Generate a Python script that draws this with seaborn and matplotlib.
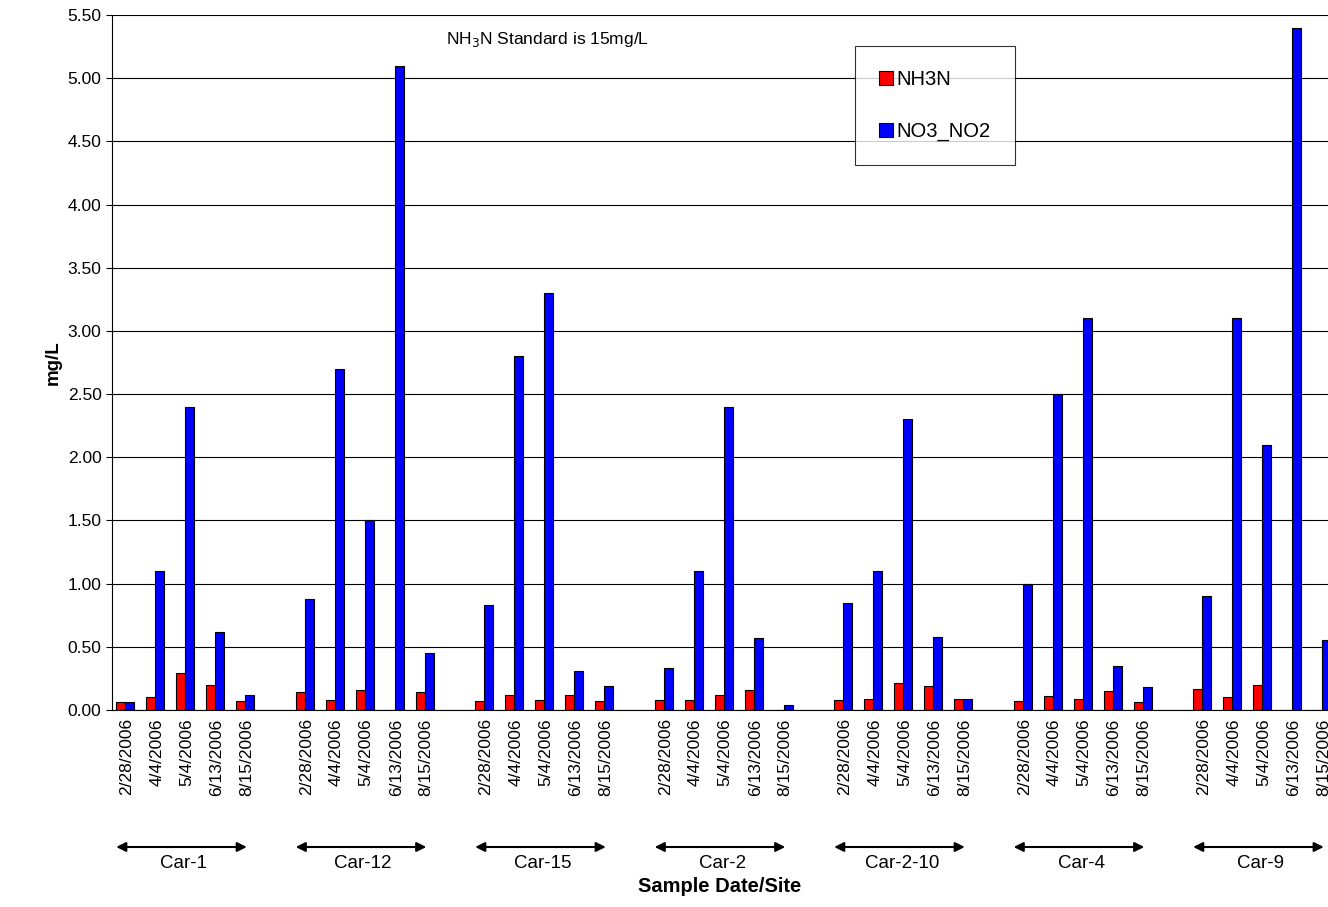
import matplotlib
matplotlib.use("Agg")
import matplotlib.pyplot as plt
import matplotlib.transforms as mtransforms
import seaborn as sns
import numpy as np

sns.set_style("white")
plt.rcParams['font.family'] = ['Liberation Sans', 'DejaVu Sans']
plt.rcParams['text.color'] = 'black'
plt.rcParams['xtick.color'] = 'black'
plt.rcParams['ytick.color'] = 'black'
plt.rcParams['axes.labelcolor'] = 'black'

sites = ["Car-1", "Car-12", "Car-15", "Car-2", "Car-2-10", "Car-4", "Car-9"]
dates = ["2/28/2006", "4/4/2006", "5/4/2006", "6/13/2006", "8/15/2006"]
nh3n = [[0.06, 0.10, 0.29, 0.20, 0.07],
        [0.14, 0.08, 0.16, 0.00, 0.14],
        [0.07, 0.12, 0.08, 0.12, 0.07],
        [0.08, 0.08, 0.12, 0.16, 0.00],
        [0.08, 0.09, 0.21, 0.19, 0.09],
        [0.07, 0.11, 0.09, 0.15, 0.06],
        [0.17, 0.10, 0.20, 0.00, 0.00]]
no3 = [[0.06, 1.10, 2.40, 0.62, 0.12],
       [0.88, 2.70, 1.50, 5.10, 0.45],
       [0.83, 2.80, 3.30, 0.31, 0.19],
       [0.33, 1.10, 2.40, 0.57, 0.04],
       [0.85, 1.10, 2.30, 0.58, 0.09],
       [1.00, 2.50, 3.10, 0.35, 0.18],
       [0.90, 3.10, 2.10, 5.40, 0.55]]

fig = plt.figure(figsize=(13.28, 9.07), dpi=100)
ax = fig.add_axes([0.0843, 0.2172, 0.9157, 0.7663])

w = 0.3
pos, labels = [], []
for g, s in enumerate(sites):
    for d in range(len(dates)):
        x = g * 6 + d
        pos.append(x); labels.append(dates[d])
        ax.bar(x - w/2 - 0.05, nh3n[g][d], w, color="#FF0000", edgecolor="black", linewidth=0.8,
               label="NH3N" if (g == 0 and d == 0) else None)
        ax.bar(x + w/2 - 0.05, no3[g][d], w, color="#0000FF", edgecolor="black", linewidth=0.8,
               label="NO3_NO2" if (g == 0 and d == 0) else None)

ax.set_xlim(-0.5, 40.15)
ax.set_ylim(0, 5.5)
ax.set_yticks(np.arange(0, 5.51, 0.5))
ax.set_yticklabels([f"{v:.2f}" for v in np.arange(0, 5.51, 0.5)], fontsize=12.5)
ax.yaxis.grid(True, color="black", linewidth=0.8)
ax.set_axisbelow(True)
ax.set_xticks(pos)
ax.set_xticklabels(labels, rotation=90, fontsize=12.5)
ax.tick_params(axis='x', length=0, pad=6)
ax.tick_params(axis='y', length=4, left=True)
for sp in ["top", "right"]:
    ax.spines[sp].set_visible(False)
for sp in ["left", "bottom"]:
    ax.spines[sp].set_color("black")
ax.set_ylabel("mg/L", fontsize=13.5, fontweight="bold")

ax.text(0.275, 0.965, "NH$_3$N Standard is 15mg/L", transform=ax.transAxes,
        fontsize=12.5, ha="left", va="center")

leg = ax.legend(loc="upper left", bbox_to_anchor=(0.611, 0.955), fontsize=14.5,
                frameon=True, fancybox=False, edgecolor="black", handlelength=0.7,
                handletextpad=0.15, labelspacing=1.6, borderpad=1.2, borderaxespad=0)
leg.get_frame().set_linewidth(0.8)

trans = mtransforms.blended_transform_factory(ax.transData, fig.transFigure)
for g, s in enumerate(sites):
    x0, x1 = g * 6 - 0.45, g * 6 + 4.1
    ax.annotate("", xy=(x0, 1 - 847/907), xytext=(x1, 1 - 847/907), xycoords=trans,
                textcoords=trans, arrowprops=dict(arrowstyle="<|-|>", color="black", lw=1.5,
                                                  mutation_scale=14), annotation_clip=False)
    ax.text(g * 6 + 1.9, 1 - 864/907, s, transform=trans, ha="center", va="center", fontsize=13.5)

fig.text(0.5 + 0.042, 1 - 886/907, "Sample Date/Site", ha="center", va="center",
         fontsize=14.5, fontweight="bold")

fig.savefig("out.png", dpi=100)
